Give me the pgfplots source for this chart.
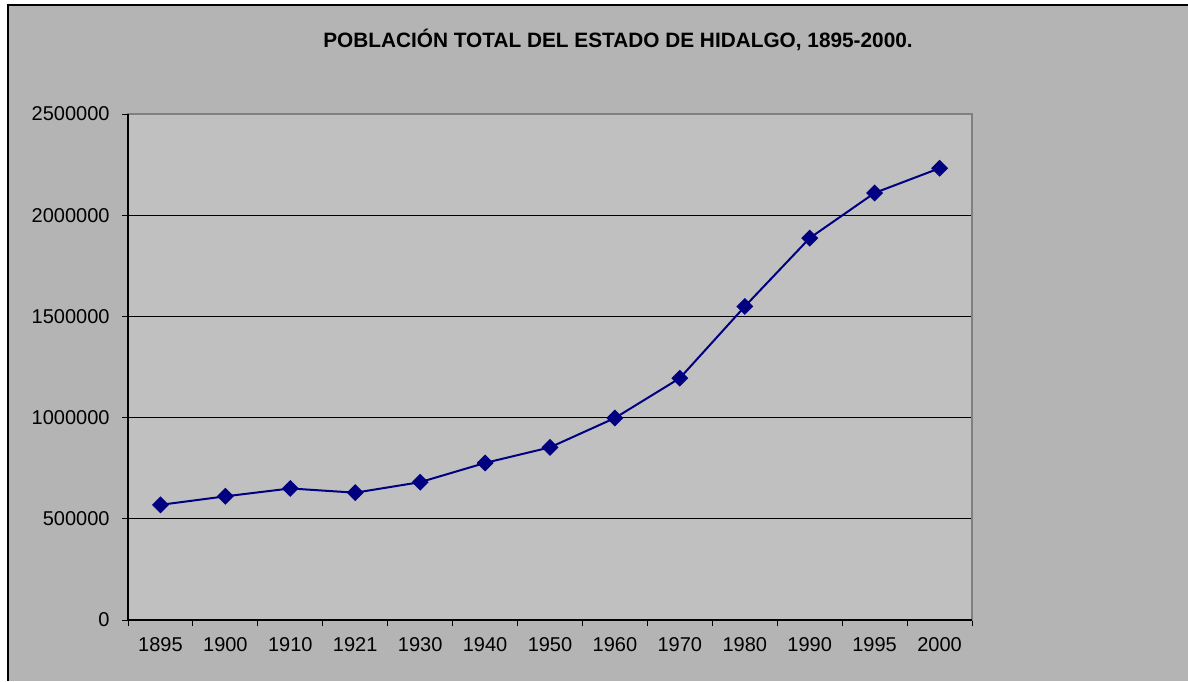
\documentclass[border=0pt]{standalone}
\usepackage{pgfplots}
\pgfplotsset{compat=1.18}
\usepackage{fontspec}
\setmainfont{Liberation Sans}
\definecolor{outerbg}{RGB}{180,180,180}
\definecolor{plotbg}{RGB}{192,192,192}
\definecolor{plotframe}{RGB}{128,128,128}
\definecolor{navyline}{RGB}{0,0,128}
\begin{document}
\begin{tikzpicture}[x=0.5pt,y=0.5pt]
\path[use as bounding box] (0,0) rectangle (1188,681);
\fill[white] (0,0) rectangle (1188,681);
\fill[outerbg] (8,0) rectangle (1188,676);
\draw[black, line width=1pt] (8,0) -- (8,676) -- (1188,676);
\node[font=\bfseries\fontsize{10.4}{12}\selectfont] at (618,641) {POBLACIÓN TOTAL DEL ESTADO DE HIDALGO, 1895-2000.};
\begin{axis}[
  at={(64pt,30.5pt)}, anchor=south west,
  scale only axis, width=422pt, height=253pt,
  xmin=-0.5, xmax=12.5, ymin=0, ymax=2500000,
  xtick={0,...,12},
  xticklabels={1895,1900,1910,1921,1930,1940,1950,1960,1970,1980,1990,1995,2000},
  minor xtick={-0.5,0.5,...,12.5},
  ytick={0,500000,1000000,1500000,2000000,2500000},
  scaled y ticks=false,
  /pgf/number format/fixed,
  /pgf/number format/1000 sep={},
  /pgf/number format/assume math mode=true,
  tick align=outside,
  xtick pos=bottom, ytick pos=left,
  major tick length=3pt, minor tick length=3pt,
  major x tick style={draw=none},
  minor x tick style={black, line width=0.5pt},
  ytick style={black, line width=0.5pt},
  ymajorgrids,
  major grid style={black, line width=0.5pt},
  axis background/.style={fill=plotbg},
  axis line style={draw=plotframe, line width=1pt},
  ticklabel style={font=\fontsize{10}{12}\selectfont},
  xticklabel style={yshift=-2.4pt},
  yticklabel style={xshift=-2.7pt},
  clip=false,
]
\addplot[navyline, line width=1pt, mark=square*, mark size=2.5pt, mark options={rotate=45, fill=navyline, draw=navyline}]
  coordinates {
  (0,569000) (1,611000) (2,650000) (3,629000) (4,681000) (5,776000)
  (6,853000) (7,998000) (8,1195000) (9,1549000) (10,1887000) (11,2110000) (12,2232000)
  };
\draw[black, line width=0.6pt] (rel axis cs:0,1) -- (rel axis cs:0,0) -- (rel axis cs:1,0);
\end{axis}
\end{tikzpicture}
\end{document}
